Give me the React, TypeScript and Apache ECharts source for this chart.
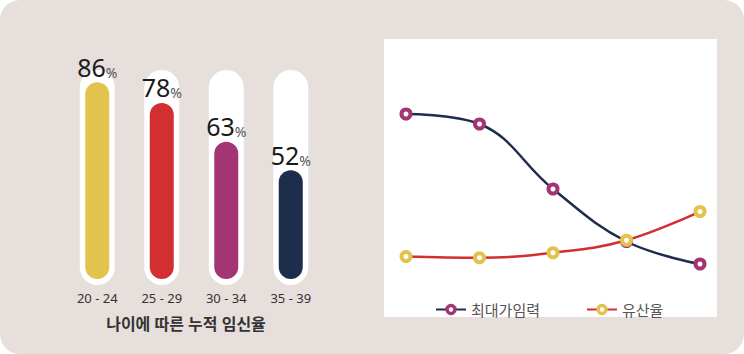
import React, { useEffect, useRef } from "react";
import * as echarts from "echarts";

const ageGroups = ["20 - 24", "25 - 29", "30 - 34", "35 - 39"];
const pregnancyRate = [86, 78, 63, 52];
const barColors = ["#e3c24e", "#d12f31", "#a33574", "#1d2d4c"];
const trackValues = [100, 100, 100, 100];

const lineCategories = ["20-24", "25-29", "30-34", "35-39", "40-44"];
const fertilityName = "최대가임력";
const fertility = [70, 66, 40, 19, 10];
const miscarriageName = "유산율";
const miscarriage = [13, 12.5, 14.5, 19.5, 31];
const leftTitle = "나이에 따른 누적 임신율";

const FONT = "'Noto Sans', 'Noto Sans CJK KR', sans-serif";

export default function App() {
  const ref = useRef<HTMLDivElement>(null);
  useEffect(() => {
    document.body.style.margin = "0";
    const chart = echarts.init(ref.current!, null, { renderer: "svg" });
    chart.setOption({
      animation: false,
      textStyle: { fontFamily: FONT },
      graphic: [
        {
          type: "rect",
          z: 0,
          shape: { x: 384, y: 39, width: 333, height: 278 },
          style: { fill: "#ffffff" },
          silent: true,
        },
        {
          type: "text",
          z: 5,
          x: 186,
          y: 324,
          style: {
            text: leftTitle,
            fontSize: 16,
            fontWeight: 600,
            fontFamily: FONT,
            fill: "#333333",
            textAlign: "center",
            textVerticalAlign: "middle",
          },
        },
      ],
      legend: {
        data: [
          { name: fertilityName, itemStyle: { color: "#ffffff", borderColor: "#a33574", borderWidth: 3.5 } },
          { name: miscarriageName, itemStyle: { color: "#ffffff", borderColor: "#e3c24e", borderWidth: 3.5 } },
        ],
        left: 430,
        top: 297,
        itemWidth: 30,
        itemHeight: 10,
        itemGap: 46,
        textStyle: { fontSize: 15, color: "#555555", fontFamily: FONT },
      },
      grid: [
        { left: 65, width: 258, top: 70, bottom: 69 },
        { left: 65, width: 258, top: 46, bottom: 75 },
        { left: 406, right: 44, top: 39, bottom: 65 },
      ],
      xAxis: [
        {
          type: "category",
          gridIndex: 0,
          data: ageGroups,
          axisLine: { show: false },
          axisTick: { show: false },
          axisLabel: { color: "#333333", fontSize: 13, margin: 6, fontFamily: FONT },
        },
        { type: "category", gridIndex: 1, data: ageGroups, show: false },
        { type: "category", gridIndex: 2, data: lineCategories, boundaryGap: false, show: false },
      ],
      yAxis: [
        { type: "value", gridIndex: 0, min: 0, max: 100, show: false },
        { type: "value", gridIndex: 1, min: 10, max: 100, show: false },
        { type: "value", gridIndex: 2, min: 0, max: 100, show: false },
      ],
      series: [
        {
          type: "bar",
          xAxisIndex: 0,
          yAxisIndex: 0,
          data: trackValues,
          barWidth: 35,
          silent: true,
          itemStyle: { color: "#ffffff", borderRadius: 17.5 },
        },
        {
          type: "bar",
          xAxisIndex: 1,
          yAxisIndex: 1,
          barWidth: 24,
          z: 3,
          data: pregnancyRate.map((v, i) => ({ value: v, itemStyle: { color: barColors[i] } })),
          itemStyle: { borderRadius: 12 },
          label: {
            show: true,
            position: "top",
            distance: 3,
            formatter: "{n|{c}}{p|%}",
            rich: {
              n: { fontSize: 25, color: "#1a1a1a", fontFamily: FONT, verticalAlign: "bottom", lineHeight: 26 },
              p: { fontSize: 14, color: "#555555", fontFamily: FONT, verticalAlign: "bottom", lineHeight: 22 },
            },
          },
        },
        {
          name: fertilityName,
          type: "line",
          xAxisIndex: 2,
          yAxisIndex: 2,
          data: fertility,
          smooth: 0.4,
          symbol: "circle",
          symbolSize: 9,
          lineStyle: { color: "#1d2d4c", width: 2.5 },
          itemStyle: { color: "#ffffff", borderColor: "#a33574", borderWidth: 4 },
        },
        {
          name: miscarriageName,
          type: "line",
          xAxisIndex: 2,
          yAxisIndex: 2,
          data: miscarriage,
          smooth: 0.4,
          symbol: "circle",
          symbolSize: 9,
          lineStyle: { color: "#d12f31", width: 2.5 },
          itemStyle: { color: "#ffffff", borderColor: "#e3c24e", borderWidth: 4 },
        },
      ],
    });
    return () => chart.dispose();
  }, []);
  return (
    <div
      style={{
        width: 744,
        height: 354,
        background: "#e6dfdc",
        borderRadius: 20,
        overflow: "hidden",
      }}
    >
      <div ref={ref} style={{ width: 744, height: 354 }} />
    </div>
  );
}
